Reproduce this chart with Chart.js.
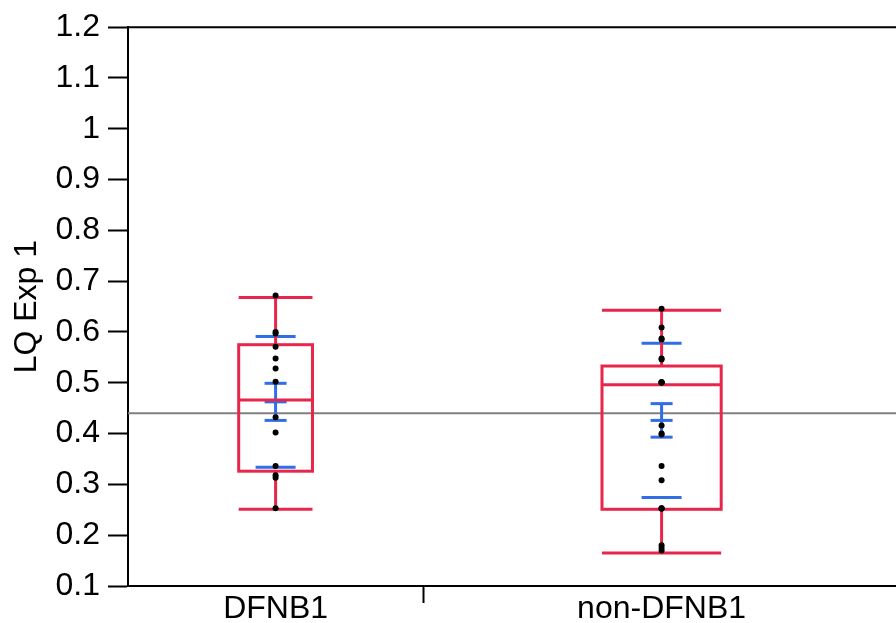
<!DOCTYPE html>
<html>
<head>
<meta charset="utf-8">
<script src="https://cdn.jsdelivr.net/npm/chart.js@4.4.1/dist/chart.umd.min.js"></script>
<style>
  html, body { margin: 0; padding: 0; background: #fff; overflow: hidden; }
  #wrap { width: 896px; height: 623px; overflow: hidden; }
</style>
</head>
<body>
<div id="wrap"><canvas id="myChart" width="960" height="623"></canvas></div>
<script>
// groups and sample sizes (x axis is proportional to n)
const groups = ["DFNB1", "non-DFNB1"];
const counts = [13, 21];

// individual observations
const dfnb1Values = [0.672, 0.600, 0.597, 0.571, 0.548, 0.528, 0.502, 0.432, 0.402, 0.336, 0.318, 0.313, 0.253];
const nonDfnb1Values = [0.646, 0.609, 0.587, 0.585, 0.548, 0.546, 0.501, 0.501, 0.501, 0.500, 0.416, 0.400, 0.398,
                        0.336, 0.308, 0.253, 0.253, 0.252, 0.180, 0.175, 0.170];

// box plot stats
const q1 = [0.326, 0.251];
const medians = [0.466, 0.496];
const q3 = [0.575, 0.533];
const whiskerLow = [0.251, 0.165];
const whiskerHigh = [0.668, 0.643];

// means with std error bars and std dev lines
const means = [0.4625, 0.426];
const stdDevs = [0.1285, 0.152];
const stdErrs = [0.0365, 0.033];
const grandMean = 0.44;

const yTicks = [0.1, 0.2, 0.3, 0.4, 0.5, 0.6, 0.7, 0.8, 0.9, 1.0, 1.1, 1.2];

const RED = "#e8264b";
const BLUE = "#2f6ee6";

// group start offsets along the x axis
const offsets = [];
let acc = 0;
counts.forEach((n) => { offsets.push(acc); acc += n; });
const xMax = acc;
const centers = counts.map((n, i) => offsets[i] + n / 2);
const dividers = offsets.slice(1);
const xTickValues = [centers[0], ...dividers, ...centers.slice(1)].sort((a, b) => a - b);

const allValues = [dfnb1Values, nonDfnb1Values];

function line(ctx, x1, y1, x2, y2) {
  ctx.beginPath();
  ctx.moveTo(x1, y1);
  ctx.lineTo(x2, y2);
  ctx.stroke();
}

const boxPlotPlugin = {
  id: "boxPlot",
  beforeDatasetsDraw(chart) {
    const { ctx, chartArea, scales } = chart;
    const x = scales.x, y = scales.y;
    ctx.save();
    ctx.lineCap = "butt";

    // frame top
    ctx.strokeStyle = "#000";
    ctx.lineWidth = 2;
    line(ctx, chartArea.left - 1, chartArea.top, chartArea.right, chartArea.top);

    // grand mean
    ctx.strokeStyle = "#808080";
    ctx.lineWidth = 2;
    const gy = y.getPixelForValue(grandMean);
    line(ctx, chartArea.left, gy, chartArea.right, gy);

    groups.forEach((g, i) => {
      const cx = x.getPixelForValue(centers[i]);
      const half = x.getPixelForValue(centers[i] + counts[i] * 0.125) - cx;

      // blue: std dev lines and mean error bars
      ctx.strokeStyle = BLUE;
      ctx.lineWidth = 3;
      const sdTop = y.getPixelForValue(means[i] + stdDevs[i]);
      const sdBot = y.getPixelForValue(means[i] - stdDevs[i]);
      line(ctx, cx - 20, sdTop, cx + 20, sdTop);
      line(ctx, cx - 20, sdBot, cx + 20, sdBot);
      const seTop = y.getPixelForValue(means[i] + stdErrs[i]);
      const seBot = y.getPixelForValue(means[i] - stdErrs[i]);
      const my = y.getPixelForValue(means[i]);
      line(ctx, cx, seTop, cx, seBot);
      line(ctx, cx - 11, seTop, cx + 11, seTop);
      line(ctx, cx - 11, seBot, cx + 11, seBot);
      line(ctx, cx - 11, my, cx + 11, my);

      // red: box and whiskers
      ctx.strokeStyle = RED;
      ctx.lineWidth = 3;
      const yq1 = y.getPixelForValue(q1[i]);
      const yq3 = y.getPixelForValue(q3[i]);
      const ymed = y.getPixelForValue(medians[i]);
      const ylo = y.getPixelForValue(whiskerLow[i]);
      const yhi = y.getPixelForValue(whiskerHigh[i]);
      ctx.strokeRect(cx - half, yq3, half * 2, yq1 - yq3);
      line(ctx, cx - half, ymed, cx + half, ymed);
      line(ctx, cx, yq3, cx, yhi);
      line(ctx, cx, yq1, cx, ylo);
      line(ctx, cx - half, yhi, cx + half, yhi);
      line(ctx, cx - half, ylo, cx + half, ylo);
    });
    ctx.restore();
  }
};

const ctx = document.getElementById("myChart");
Chart.defaults.font.family = '"Liberation Sans", Arial, Helvetica, sans-serif';
Chart.defaults.color = "#000";

new Chart(ctx, {
  type: "scatter",
  data: {
    datasets: groups.map((g, i) => ({
      label: g,
      data: allValues[i].map((v) => ({ x: centers[i], y: v })),
      pointRadius: 3,
      pointBackgroundColor: "#000",
      pointBorderWidth: 0,
      pointBorderColor: "#000",
    })),
  },
  options: {
    responsive: false,
    animation: false,
    devicePixelRatio: 1,
    layout: { padding: { top: 27, right: 60, left: 0, bottom: 0 } },
    plugins: { legend: { display: false }, tooltip: { enabled: false } },
    scales: {
      x: {
        type: "linear",
        min: 0,
        max: xMax,
        afterBuildTicks: (scale) => { scale.ticks = xTickValues.map((v) => ({ value: v })); },
        afterFit: (scale) => { scale.height = 37; },
        ticks: {
          autoSkip: false,
          maxRotation: 0,
          padding: -13,
          font: { size: 32 },
          callback: (v) => {
            const i = centers.indexOf(v);
            return i >= 0 ? groups[i] : "";
          },
        },
        grid: {
          drawOnChartArea: false,
          tickLength: 17,
          tickWidth: 2,
          tickColor: (c) => (c.tick && dividers.includes(c.tick.value) ? "#000" : "rgba(0,0,0,0)"),
        },
        border: { color: "#000", width: 2 },
      },
      y: {
        min: yTicks[0],
        max: yTicks[yTicks.length - 1],
        afterBuildTicks: (scale) => { scale.ticks = yTicks.map((v) => ({ value: v })); },
        afterFit: (scale) => { scale.width = 128; },
        ticks: {
          padding: 8,
          font: { size: 32 },
          callback: (v) => String(Number(v.toFixed(1))),
        },
        grid: {
          drawOnChartArea: false,
          tickLength: 20,
          tickWidth: 2,
          tickColor: "#000",
        },
        border: { color: "#000", width: 2 },
        title: {
          display: true,
          text: "LQ Exp 1",
          font: { size: 32 },
          padding: { top: 8, bottom: 0 },
        },
      },
    },
  },
  plugins: [boxPlotPlugin],
});
</script>
</body>
</html>
